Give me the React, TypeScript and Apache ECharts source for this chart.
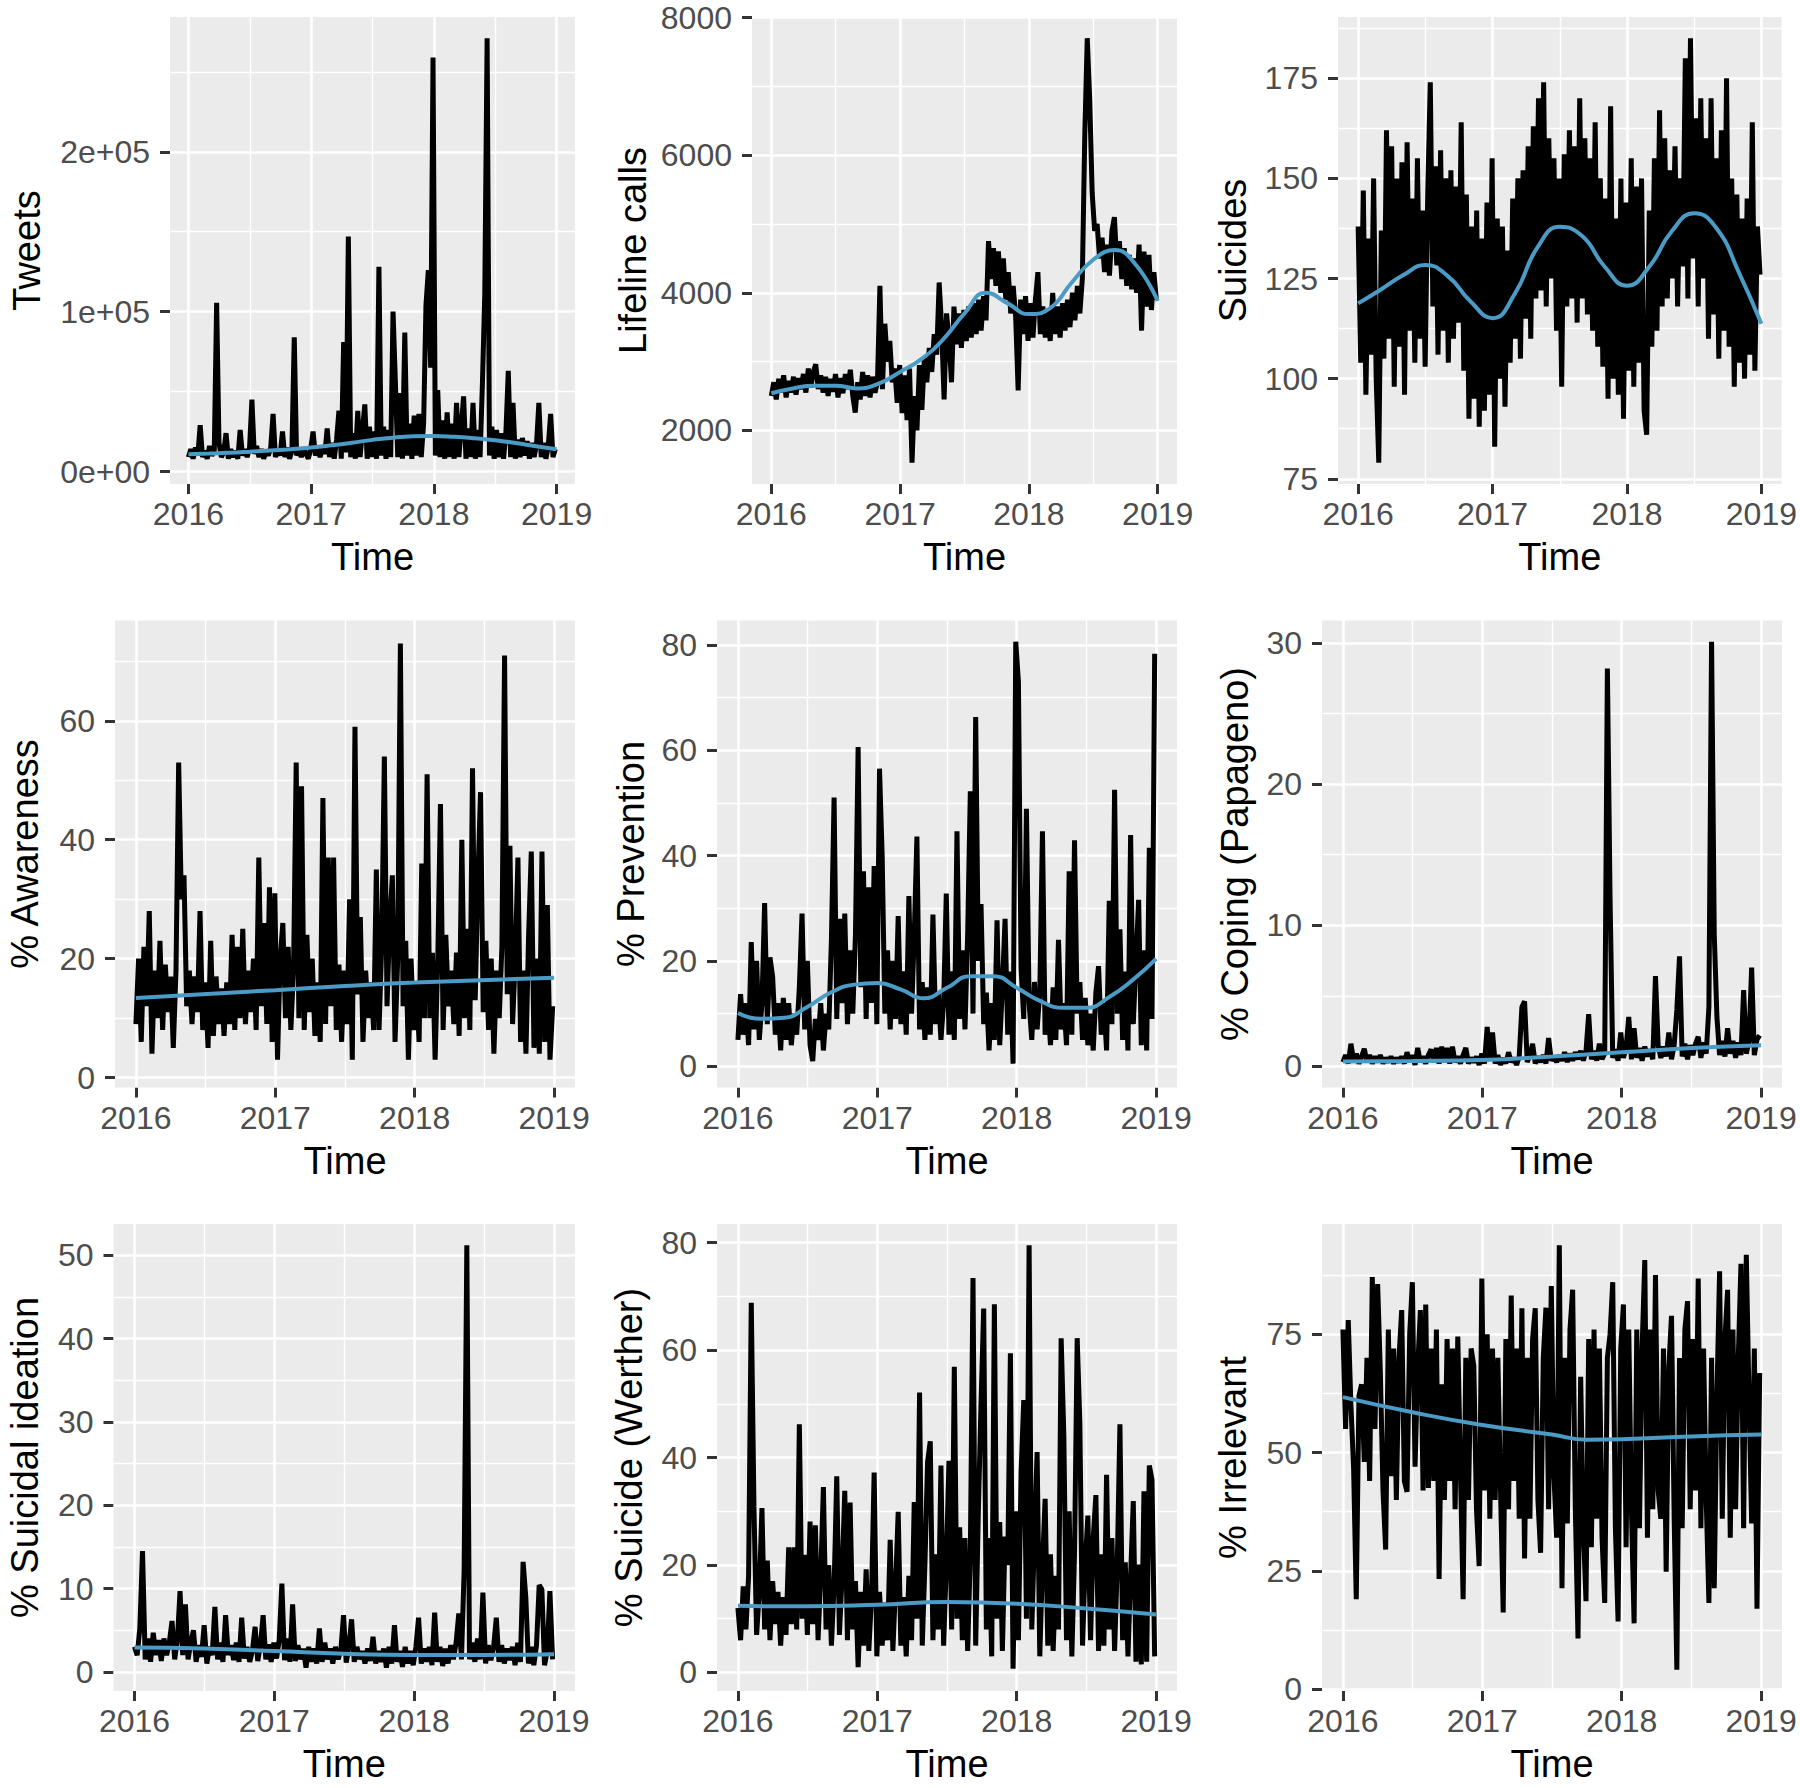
import React, { useEffect, useRef } from "react";
import * as echarts from "echarts";

// ---------- time axis (weekly samples, 2016-01-01 .. 2018-12-31) ----------
const WEEK_COUNT = 157;
const weekTimes: number[] = Array.from({ length: WEEK_COUNT }, (_, i) => 2016 + (i * 7) / 365.25);
const YEAR_TICKS = [2016, 2017, 2018, 2019];
const YEAR_MINOR = [2016.5, 2017.5, 2018.5];

// ---------- series values ----------
// Tweets, in thousands
const tweets = [
  9, 14, 8, 15, 10, 29, 9, 13, 8, 16,
  10, 13, 105.6, 18, 9, 12, 24, 8, 14, 9,
  13, 8, 26, 10, 14, 9, 15, 45, 11, 16,
  9, 14, 8, 13, 10, 15, 36, 9, 14, 10,
  25, 9, 15, 8, 13, 84, 10, 14, 9, 15,
  11, 8, 14, 25, 10, 15, 9, 16, 11, 27,
  9, 18, 8, 20, 38, 8, 81, 12, 147, 9,
  24, 8, 38, 9, 26, 42, 8, 28, 9, 25,
  8, 128, 10, 28, 8, 26, 9, 100, 56, 9,
  49, 8, 87, 10, 30, 8, 35, 10, 36, 9,
  30, 104, 126, 65, 259, 10, 51, 9, 32, 8,
  37, 9, 30, 8, 43, 9, 28, 47, 8, 27,
  9, 43, 8, 26, 9, 55, 111, 271, 10, 28,
  8, 26, 9, 24, 8, 25, 63, 9, 43, 8,
  20, 9, 21, 10, 19, 8, 18, 9, 17, 43,
  9, 18, 8, 16, 36, 9, 14,
];
const tweetsSmooth = [
  [2016, 10.8], [2016.167, 11.2], [2016.333, 11.7], [2016.5, 12.4], [2016.667, 13.2], [2016.833, 14.0],
  [2017, 15.0], [2017.167, 16.4], [2017.333, 18.0], [2017.5, 19.8], [2017.667, 21.2], [2017.833, 22.0],
  [2018, 22.2], [2018.167, 21.7], [2018.333, 20.8], [2018.5, 19.6], [2018.667, 17.8], [2018.833, 15.8], [2019, 13.9],
];

const lifeline = [
  2500, 2700, 2450, 2750, 2550, 2800, 2480, 2720, 2550, 2780,
  2520, 2760, 2600, 2820, 2550, 2900, 2620, 2850, 2960, 2600,
  2800, 2550, 2780, 2500, 2750, 2560, 2820, 2480, 2760, 2540,
  2820, 2600, 2880, 2500, 2260, 2700, 2450, 2850, 2500, 2800,
  2480, 2780, 2550, 2700, 4100, 2600, 3550, 3000, 3300, 2700,
  2900, 2400, 2950, 2250, 2800, 2150, 2900, 1530, 2500, 2000,
  2950, 2300, 3050, 2700, 3200, 2850, 3400, 3100, 4150, 3500,
  2450, 3700, 3300, 2700, 3800, 3250, 3700, 3200, 3750, 3300,
  3800, 3350, 3850, 3400, 3900, 3450, 3950, 3600, 4750, 4200,
  4650, 4100, 4600, 4000, 4500, 3900, 4300, 3700, 4100, 3650,
  2580, 3900, 3400, 3950, 3300, 3850, 3350, 3900, 4300, 3400,
  3800, 3350, 3750, 3300, 4000, 3400, 3800, 3350, 3850, 3450,
  3900, 3500, 4000, 3600, 4100, 3700, 4200, 6300, 7700, 6800,
  5450, 4900, 5000, 4500, 4800, 4300, 4700, 4250, 4900, 5100,
  4400, 4750, 4200, 4650, 4100, 4550, 4050, 4500, 4000, 4700,
  3450, 4600, 3800, 4550, 3750, 4300, 3900,
];
const lifelineSmooth = [
  [2016, 2540], [2016.167, 2610], [2016.333, 2650], [2016.5, 2650], [2016.667, 2610], [2016.833, 2680],
  [2017, 2850], [2017.167, 3040], [2017.333, 3320], [2017.5, 3700], [2017.667, 4000], [2017.833, 3850],
  [2018, 3690], [2018.167, 3780], [2018.333, 4150], [2018.5, 4480], [2018.667, 4620], [2018.833, 4400], [2019, 3880],
];

const suicides = [
  138, 104, 147, 96, 135, 106, 150, 100, 79, 137,
  105, 162, 110, 158, 98, 150, 108, 154, 96, 159,
  112, 145, 104, 155, 110, 142, 103, 146, 174, 118,
  153, 106, 157, 112, 150, 104, 152, 110, 148, 114,
  164, 102, 146, 90, 138, 95, 142, 88, 135, 92,
  144, 96, 155, 83, 140, 100, 138, 93, 132, 104,
  145, 110, 150, 105, 152, 115, 158, 110, 163, 120,
  170, 122, 174, 118, 160, 125, 155, 112, 150, 98,
  156, 118, 162, 120, 158, 114, 170, 120, 160, 116,
  155, 112, 164, 108, 150, 103, 145, 95, 168, 100,
  140, 96, 150, 90, 144, 102, 155, 98, 148, 104,
  150, 92, 86, 142, 108, 155, 112, 167, 118, 160,
  120, 152, 125, 158, 118, 150, 128, 180, 120, 185,
  130, 165, 118, 170, 125, 160, 110, 170, 116, 155,
  105, 162, 112, 175, 108, 150, 98, 146, 104, 140,
  100, 145, 106, 164, 102, 138, 126,
];
const suicidesSmooth = [
  [2016, 118.8], [2016.167, 122.2], [2016.333, 125.8], [2016.5, 128.4], [2016.667, 125.6], [2016.833, 119.4],
  [2017, 115.1], [2017.167, 121.3], [2017.333, 132.7], [2017.5, 137.9], [2017.667, 135.6], [2017.833, 128],
  [2018, 123.2], [2018.167, 128], [2018.333, 136.8], [2018.5, 141.3], [2018.667, 137.5], [2018.833, 126.5], [2019, 113.7],
];

const awareness = [
  9, 20, 6, 22, 12, 28, 4, 18, 10, 23,
  8, 19, 11, 17, 5, 18, 53, 30, 34, 12,
  18, 9, 17, 11, 28, 8, 16, 5, 23, 7,
  17, 9, 15, 7, 16, 9, 24, 8, 22, 10,
  25, 9, 18, 11, 20, 8, 37, 12, 26, 9,
  32, 6, 31, 3, 20, 26, 10, 22, 8, 18,
  53, 10, 49, 8, 24, 11, 20, 7, 16, 6,
  47, 9, 37, 12, 37, 8, 19, 6, 18, 9,
  30, 3, 59, 14, 27, 6, 18, 10, 16, 8,
  35, 8, 22, 54, 12, 26, 34, 6, 20, 73,
  12, 23, 3, 20, 8, 16, 6, 36, 10, 51,
  10, 21, 3, 20, 46, 8, 24, 12, 18, 9,
  21, 7, 40, 10, 25, 8, 52, 13, 33, 48,
  11, 23, 8, 20, 4, 18, 10, 22, 71, 14,
  39, 9, 20, 37, 6, 18, 4, 24, 38, 5,
  20, 4, 38, 6, 29, 3, 12,
];
const awarenessSmooth = [[2016, 13.4], [2017, 14.7], [2017.5, 15.4], [2018, 16.0], [2019, 16.8]];

const prevention = [
  5, 13.7, 6, 12, 4, 23.6, 7, 20, 5, 12,
  31, 8, 20.7, 17, 6, 12, 3, 13, 5, 12,
  4, 10, 6, 15, 29, 7, 20, 4, 1, 9,
  5, 12, 3, 10, 7, 24, 51, 9, 28, 12,
  29, 8, 22, 10, 25, 60.6, 15, 37, 9, 34,
  12, 38, 8, 56.5, 40, 10, 22, 7, 20, 9,
  28.5, 8, 18, 6, 32.3, 10, 24.7, 43.6, 7, 16,
  5, 15, 6, 28.8, 8, 14, 5, 12, 32.8, 6,
  18, 5, 44.6, 9, 22, 7, 25, 52.2, 10, 66.3,
  20, 30.8, 8, 14, 3, 12, 5, 27.7, 4, 15,
  28, 6, 18, 0.5, 80.6, 73, 18.6, 9, 48.9, 12,
  5, 16, 7, 14, 44.6, 6, 12, 4, 15, 5,
  24, 7, 12, 4, 37, 6, 42.9, 10, 16, 5,
  13, 4, 10, 3, 14, 19, 6, 12, 3, 31.4,
  8, 52.5, 10, 26, 5, 18, 3, 43.9, 8, 20,
  31.6, 4, 22, 3, 41.5, 9, 78.3,
];
const preventionSmooth = [
  [2016, 10.1], [2016.167, 9.0], [2016.333, 9.2], [2016.5, 11.3], [2016.667, 14.0], [2016.833, 15.5],
  [2017, 15.8], [2017.167, 14.6], [2017.333, 12.9], [2017.5, 14.9], [2017.667, 17.1], [2017.833, 17.1],
  [2018, 14.9], [2018.167, 12.4], [2018.333, 11.1], [2018.5, 11.1], [2018.667, 13.2], [2018.833, 16.4], [2019, 20.4],
];

const coping = [
  0.3, 0.8, 0.2, 1.6, 0.4, 0.9, 0.2, 0.7, 1.25, 0.3,
  0.8, 0.2, 0.7, 0.3, 0.8, 0.2, 0.6, 0.3, 0.7, 0.2,
  0.6, 0.3, 0.7, 0.2, 1.0, 0.3, 0.8, 0.1, 1.3, 0.3,
  0.7, 0.2, 0.8, 1.2, 0.3, 1.3, 0.2, 1.4, 0.3, 1.3,
  0.2, 1.4, 0.3, 0.7, 0.2, 0.8, 1.3, 0.2, 0.6, 0.3,
  0.7, 0.1, 0.9, 0.2, 2.8, 0.5, 2.4, 0.2, 0.8, 0.1,
  0.6, 0.2, 1.0, 0.3, 0.6, 0.1, 0.7, 4.2, 4.6, 0.3,
  0.8, 1.6, 0.2, 0.7, 0.3, 0.8, 0.2, 2.0, 0.4, 0.7,
  0.3, 0.8, 0.4, 1.0, 0.3, 0.9, 0.4, 1.0, 0.5, 1.1,
  0.4, 1.1, 3.7, 0.5, 1.1, 0.4, 1.6, 0.5, 0.9, 28.2,
  11.9, 0.6, 1.2, 0.4, 2.4, 0.6, 1.3, 3.5, 0.5, 2.7,
  0.6, 1.3, 0.4, 1.4, 0.7, 1.2, 0.5, 6.4, 1.5, 0.6,
  1.4, 0.7, 2.4, 0.5, 1.5, 4.0, 7.8, 0.7, 1.6, 0.5,
  1.5, 0.8, 1.6, 2.1, 0.6, 1.7, 0.9, 4.2, 30.1, 9.4,
  3.5, 0.8, 1.8, 0.7, 2.7, 0.9, 1.8, 0.6, 1.7, 0.8,
  5.4, 0.9, 1.8, 7.0, 0.8, 1.9, 2.2,
];
const copingSmooth = [[2016, 0.35], [2016.5, 0.38], [2017, 0.45], [2017.5, 0.7], [2018, 1.0], [2018.5, 1.3], [2019, 1.5]];

const ideation = [
  3, 2, 5.2, 14.5, 1.5, 4, 1.2, 4.7, 2, 3.8,
  1.3, 4, 2, 3.5, 6.1, 1.5, 3.8, 9.7, 2, 8.1,
  1.5, 3.5, 5, 1.2, 3.2, 1.8, 5.6, 1, 3, 2,
  7.8, 1.5, 3.5, 1.2, 6.8, 2, 3.2, 1.4, 3.5, 1.2,
  6.5, 1.6, 3, 1.2, 2.5, 5.4, 1.3, 3.2, 6.8, 1.5,
  3.3, 1.2, 3.5, 1.6, 3.8, 10.6, 1.4, 4, 1.2, 8.1,
  1.3, 3.2, 1.5, 2.8, 0.5, 3.0, 1.2, 2.8, 1, 5.2,
  1.2, 3.5, 1.5, 2.8, 1, 3, 1.5, 2.6, 6.8, 1.1,
  3, 6.3, 1.2, 3, 1.5, 2.5, 1, 2.8, 1.3, 4.2,
  1, 2.5, 1.2, 2.8, 0.5, 3, 1, 5.6, 1.2, 2.5,
  0.6, 3, 1, 2.5, 0.8, 3, 6.5, 1, 2.8, 1.2,
  3, 0.8, 7.1, 1.2, 3, 0.7, 2.8, 1, 3.2, 1.5,
  3.5, 7, 1.5, 12.2, 51.2, 1.5, 3.5, 1.2, 4, 1.5,
  9.5, 1, 3.2, 1.4, 3, 6.5, 1.2, 3.2, 1, 2.8,
  1.4, 3, 0.8, 3.5, 1.2, 13.2, 9, 1, 3, 0.8,
  3.2, 10.4, 9.9, 0.8, 2.5, 9.7, 1.5,
];
const ideationSmooth = [[2016, 2.93], [2016.5, 2.8], [2017, 2.5], [2017.5, 2.17], [2018, 2.03], [2018.5, 2.03], [2019, 2.12]];

const werther = [
  12, 6, 16, 8, 18, 68.8, 30.9, 7, 15, 30.6,
  8, 20.8, 6, 17, 9, 15, 5, 14, 7, 23.3,
  9, 23.3, 8, 46.2, 10, 21.9, 7, 28.1, 9, 27.4,
  6, 18, 34.5, 8, 20, 5, 16, 36.5, 7, 18,
  33.8, 6, 31.6, 8, 17, 1, 15, 5, 19.2, 4,
  14, 37.2, 3, 15, 5, 13, 6, 24.7, 4, 16,
  29.9, 5, 14, 3, 18, 6, 31.7, 10, 52.1, 5,
  20, 39.2, 43, 6, 22, 8, 38.5, 5, 20, 39.4,
  8, 56.9, 10, 27, 6, 25, 4, 22, 73.4, 5,
  30, 50, 67.7, 8, 25, 3, 68.5, 10, 28, 4,
  25.3, 20, 59.4, 0.7, 30, 6, 37.2, 50.7, 10, 79.5,
  8, 25, 41, 3, 20, 32.3, 5, 22, 4, 18,
  8, 62.2, 44.1, 6, 30, 3, 22, 62.2, 46.2, 5,
  20, 29.2, 6, 25, 33, 4, 22, 5, 36.8, 8,
  25, 4, 20, 46.2, 6, 20.5, 3, 18, 31.9, 2,
  20.1, 1.5, 33.7, 2, 38.5, 35.8, 3,
];
const wertherSmooth = [[2016, 12.4], [2016.5, 12.3], [2017, 12.6], [2017.5, 13.1], [2018, 12.8], [2018.5, 11.9], [2019, 10.8]];

const irrelevant = [
  76, 55, 78, 60, 46.8, 19, 62, 64.4, 48, 70,
  44, 87.1, 55, 85.6, 67.2, 42, 29.5, 76, 45, 72,
  40, 70, 80.1, 44, 41.7, 75, 86, 47, 68, 80.1,
  42, 81.3, 42.5, 72, 44, 76, 23.3, 64.4, 40, 74,
  44, 72, 38, 74.5, 46, 19, 70, 40, 72, 68.3,
  38, 26, 86.8, 42, 75, 36, 72, 40, 70, 42,
  16.2, 74, 38, 83.2, 44, 72, 36, 80.5, 27.6, 70,
  36, 74, 80.5, 40, 28.8, 70, 80.6, 38, 85.2, 45,
  32, 93.8, 21.3, 70, 35, 76, 84.4, 38, 10.7, 66,
  34, 18.6, 74, 30, 76, 36, 72, 32, 18.2, 70,
  75, 86, 34, 14.3, 72, 81.3, 30, 76, 38, 13.9,
  76, 34, 72, 90.7, 32, 76, 38, 87.5, 42, 36,
  72, 24.8, 68, 78.9, 36, 4.1, 70, 34, 76, 82,
  38, 74, 42, 86.8, 34, 72, 40, 18.2, 70, 21.3,
  62, 88.3, 36, 74, 84.4, 32, 76, 38, 70, 89.9,
  34, 91.8, 62, 35, 72, 17, 66.8,
];
const irrelevantSmooth = [[2016, 61.7], [2016.5, 58.5], [2017, 55.8], [2017.5, 53.8], [2017.75, 52.7], [2018, 52.8], [2018.5, 53.4], [2019, 53.8]];

// ---------- tick labels ----------
const tweetsTicks = [0, 100, 200];
const tweetsTickLabels = ["0e+00", "1e+05", "2e+05"];
const lifelineTicks = [2000, 4000, 6000, 8000];
const suicidesTicks = [75, 100, 125, 150, 175];
const awarenessTicks = [0, 20, 40, 60];
const preventionTicks = [0, 20, 40, 60, 80];
const copingTicks = [0, 10, 20, 30];
const ideationTicks = [0, 10, 20, 30, 40, 50];
const wertherTicks = [0, 20, 40, 60, 80];
const irrelevantTicks = [0, 25, 50, 75];

// ---------- layout ----------
const X_MIN = 2015.85;
const X_MAX = 2019.15;
const ROWS = [
  { top: 17, bottom: 484 },
  { top: 620.5, bottom: 1087.5 },
  { top: 1224, bottom: 1691 },
];
const FONT = "Liberation Sans, Arial, Helvetica, sans-serif";

type Panel = {
  title: string;
  values: number[];
  smooth: number[][];
  ticks: number[];
  minor: number[];
  labels?: string[];
  yMin: number;
  yMax: number;
  left: number;
  right: number;
  row: number;
  nameGap: number;
};

const panels: Panel[] = [
  { title: "Tweets", values: tweets, smooth: tweetsSmooth, ticks: tweetsTicks, labels: tweetsTickLabels, minor: [50, 150, 250], yMin: -7.8, yMax: 284.3, left: 170, right: 575, row: 0, nameGap: 124 },
  { title: "Lifeline calls", values: lifeline, smooth: lifelineSmooth, ticks: lifelineTicks, minor: [3000, 5000, 7000], yMin: 1221, yMax: 8008, left: 752, right: 1177, row: 0, nameGap: 100 },
  { title: "Suicides", values: suicides, smooth: suicidesSmooth, ticks: suicidesTicks, minor: [87.5, 112.5, 137.5, 162.5, 187.5], yMin: 73.7, yMax: 190.3, left: 1338, right: 1782, row: 0, nameGap: 86 },
  { title: "% Awareness", values: awareness, smooth: awarenessSmooth, ticks: awarenessTicks, minor: [10, 30, 50, 70], yMin: -1.67, yMax: 76.87, left: 115, right: 575, row: 1, nameGap: 71 },
  { title: "% Prevention", values: prevention, smooth: preventionSmooth, ticks: preventionTicks, minor: [10, 30, 50, 70], yMin: -4.03, yMax: 84.63, left: 717, right: 1177, row: 1, nameGap: 67 },
  { title: "% Coping (Papageno)", values: coping, smooth: copingSmooth, ticks: copingTicks, minor: [5, 15, 25], yMin: -1.5, yMax: 31.6, left: 1322, right: 1782, row: 1, nameGap: 68 },
  { title: "% Suicidal ideation", values: ideation, smooth: ideationSmooth, ticks: ideationTicks, minor: [5, 15, 25, 35, 45], yMin: -2.3, yMax: 53.75, left: 113.5, right: 575, row: 2, nameGap: 70 },
  { title: "% Suicide (Werther)", values: werther, smooth: wertherSmooth, ticks: wertherTicks, minor: [10, 30, 50, 70], yMin: -3.45, yMax: 83.45, left: 717, right: 1177, row: 2, nameGap: 69 },
  { title: "% Irrelevant", values: irrelevant, smooth: irrelevantSmooth, ticks: irrelevantTicks, minor: [12.5, 37.5, 62.5, 87.5], yMin: -0.4, yMax: 98.3, left: 1322, right: 1782, row: 2, nameGap: 70 },
];

const BG = "#EBEBEB";
const TICK_COLOR = "#333333";
const LABEL_COLOR = "#4D4D4D";
const SMOOTH_COLOR = "#4A9BC6";

function buildOption() {
  const grid: any[] = [];
  const xAxis: any[] = [];
  const yAxis: any[] = [];
  const series: any[] = [];

  panels.forEach((p, k) => {
    const r = ROWS[p.row];
    grid.push({
      left: p.left,
      top: r.top,
      width: p.right - p.left,
      height: r.bottom - r.top,
      show: true,
      backgroundColor: BG,
      borderWidth: 0,
    });
    xAxis.push({
      gridIndex: k,
      type: "value",
      min: X_MIN,
      max: X_MAX,
      axisLine: { show: false, onZero: false },
      axisTick: { show: true, length: 10, lineStyle: { color: TICK_COLOR, width: 3 }, customValues: YEAR_TICKS },
      axisLabel: {
        show: true,
        customValues: YEAR_TICKS,
        formatter: (v: number) => String(Math.round(v)),
        color: LABEL_COLOR,
        fontSize: 32,
        lineHeight: 32,
        fontFamily: FONT,
        margin: 14,
      },
      splitLine: { show: false },
      name: "Time",
      nameLocation: "middle",
      nameGap: 54,
      nameTextStyle: { color: "#000", fontSize: 38, lineHeight: 38, fontFamily: FONT },
    });
    yAxis.push({
      gridIndex: k,
      type: "value",
      min: p.yMin,
      max: p.yMax,
      axisLine: { show: false, onZero: false },
      axisTick: { show: true, length: 10, lineStyle: { color: TICK_COLOR, width: 3 }, customValues: p.ticks },
      axisLabel: {
        show: true,
        customValues: p.ticks,
        formatter: (v: number) => {
          if (p.labels) {
            const idx = p.ticks.findIndex((t) => Math.abs(t - v) < 1e-6);
            return idx >= 0 ? p.labels[idx] : "";
          }
          return String(v);
        },
        color: LABEL_COLOR,
        fontSize: 32,
        fontFamily: FONT,
        margin: 20,
      },
      splitLine: { show: false },
      name: p.title,
      nameLocation: "middle",
      nameGap: p.nameGap,
      nameTextStyle: { color: "#000", fontSize: 38, lineHeight: 38, fontFamily: FONT },
    });

    const minorLines: any[] = [];
    const majorLines: any[] = [];
    YEAR_MINOR.forEach((x) => minorLines.push({ coords: [[x, p.yMin], [x, p.yMax]] }));
    p.minor.forEach((y) => {
      if (y > p.yMin && y < p.yMax) minorLines.push({ coords: [[X_MIN, y], [X_MAX, y]] });
    });
    YEAR_TICKS.forEach((x) => majorLines.push({ coords: [[x, p.yMin], [x, p.yMax]] }));
    p.ticks.forEach((y) => majorLines.push({ coords: [[X_MIN, y], [X_MAX, y]] }));

    series.push({
      type: "lines",
      coordinateSystem: "cartesian2d",
      xAxisIndex: k,
      yAxisIndex: k,
      data: minorLines,
      lineStyle: { color: "#FFFFFF", width: 1.4, opacity: 1 },
      silent: true,
      z: 1,
    });
    series.push({
      type: "lines",
      coordinateSystem: "cartesian2d",
      xAxisIndex: k,
      yAxisIndex: k,
      data: majorLines,
      lineStyle: { color: "#FFFFFF", width: 2.6, opacity: 1 },
      silent: true,
      z: 1,
    });
    series.push({
      type: "line",
      xAxisIndex: k,
      yAxisIndex: k,
      data: p.values.map((v, i) => [weekTimes[i], v]),
      symbol: "none",
      showSymbol: false,
      lineStyle: { color: "#000000", width: 5, join: "bevel" },
      silent: true,
      z: 3,
    });
    series.push({
      type: "line",
      xAxisIndex: k,
      yAxisIndex: k,
      data: p.smooth,
      smooth: 0.5,
      symbol: "none",
      showSymbol: false,
      lineStyle: { color: SMOOTH_COLOR, width: 4 },
      silent: true,
      z: 4,
    });
  });

  return { animation: false, backgroundColor: "#FFFFFF", grid, xAxis, yAxis, series };
}

export default function App() {
  const ref = useRef<HTMLDivElement>(null);
  useEffect(() => {
    if (!ref.current) return;
    const chart = echarts.init(ref.current, undefined, { renderer: "svg" });
    chart.setOption(buildOption() as any);
    return () => chart.dispose();
  }, []);
  return (
    <div
      ref={ref}
      style={{ position: "absolute", left: 0, top: 0, width: 1800, height: 1788 }}
    />
  );
}
